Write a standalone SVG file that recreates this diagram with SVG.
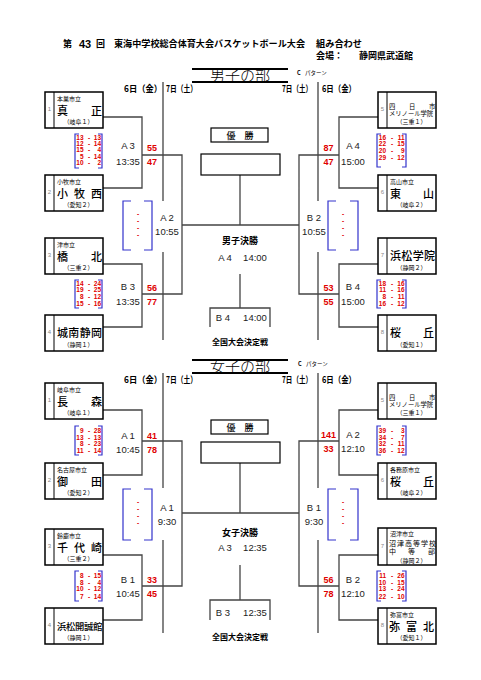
<svg xmlns="http://www.w3.org/2000/svg" width="481" height="680" viewBox="0 0 481 680">
<style>
.bx{fill:#fff;stroke:#000;stroke-width:1.5}
.il{stroke:#000;stroke-width:1}
.ln{fill:none;stroke:#444;stroke-width:1.3}
.tl{fill:none;stroke:#000;stroke-width:1.8}
.br{fill:none;stroke:#3333cc;stroke-width:1.2}
.city{font-family:"Noto Sans CJK JP",sans-serif;font-size:6px;fill:#000}
.nm{font-family:"Noto Sans CJK JP",sans-serif;font-size:11px;font-weight:500;fill:#000}
.pf{font-family:"Noto Sans CJK JP",sans-serif;font-size:6px;fill:#000;text-anchor:middle}
.no{font-family:"Liberation Sans",sans-serif;font-size:6px;fill:#888;text-anchor:middle}
.sc{font-family:"Liberation Sans",sans-serif;font-size:6.5px;font-weight:bold;fill:#e00000}
.sr{font-family:"Liberation Sans",sans-serif;font-size:9px;font-weight:bold;fill:#e00000;text-anchor:middle}
.mt{font-family:"Liberation Sans",sans-serif;font-size:9.5px;fill:#222;text-anchor:middle}
.hd{font-family:"Noto Sans CJK JP",sans-serif;font-size:9px;font-weight:bold;fill:#000}
.bt{font-family:"Noto Sans CJK JP",sans-serif;font-size:15px;font-weight:300;fill:#000;text-anchor:middle}
.cp{font-family:"Noto Sans CJK JP",sans-serif;font-size:5.5px;fill:#000}
.ct{font-family:"Noto Sans CJK JP",sans-serif;font-size:9px;font-weight:bold;fill:#000;text-anchor:middle}
.yu{font-family:"Noto Sans CJK JP",sans-serif;font-size:9px;font-weight:500;fill:#000;text-anchor:middle}
.ce{font-family:"Liberation Sans",sans-serif;font-size:9.5px;fill:#222;text-anchor:middle}
</style>
<rect width="481" height="680" fill="#fff"/>

<!-- header -->
<g id="header">
<text class="hd" x="63" y="47">第</text>
<text x="79" y="47.5" font-family="Liberation Sans,sans-serif" font-size="11" font-weight="bold">43</text>
<text class="hd" x="96" y="47">回</text>
<text class="hd" x="114" y="47" textLength="191" lengthAdjust="spacingAndGlyphs">東海中学校総合体育大会バスケットボール大会</text>
<text class="hd" x="316" y="47" textLength="46" lengthAdjust="spacingAndGlyphs">組み合わせ</text>
<text class="hd" x="316" y="58.5">会場：</text>
<text class="hd" x="359" y="58.5" textLength="54" lengthAdjust="spacingAndGlyphs">静岡県武道館</text>
</g>

<!-- boys title -->
<g id="boys-title">
<line class="tl" x1="192" y1="69" x2="288" y2="69"/>
<line class="tl" x1="192" y1="82" x2="288" y2="82"/>
<text class="bt" x="240" y="80.5">男子の部</text>
<text class="cp" x="297" y="75" font-weight="bold">C</text>
<text class="cp" x="305" y="75">パターン</text>
<text class="hd" x="124" y="92" textLength="38" lengthAdjust="spacingAndGlyphs">6日（金）</text>
<text class="hd" x="166" y="92" textLength="31" lengthAdjust="spacingAndGlyphs">7日（土）</text>
<text class="hd" x="282" y="92" textLength="30" lengthAdjust="spacingAndGlyphs">7日（土）</text>
<text class="hd" x="322" y="92" textLength="34" lengthAdjust="spacingAndGlyphs">6日（金）</text>
</g>

<!-- girls title -->
<g id="girls-title">
<line class="tl" x1="192" y1="360" x2="288" y2="360"/>
<line class="tl" x1="192" y1="373" x2="288" y2="373"/>
<text class="bt" x="240" y="371.5">女子の部</text>
<text class="cp" x="298" y="366" font-weight="bold">C</text>
<text class="cp" x="306" y="366">パターン</text>
<text class="hd" x="124" y="383" textLength="38" lengthAdjust="spacingAndGlyphs">6日（金）</text>
<text class="hd" x="166" y="383" textLength="31" lengthAdjust="spacingAndGlyphs">7日（土）</text>
<text class="hd" x="282" y="383" textLength="30" lengthAdjust="spacingAndGlyphs">7日（土）</text>
<text class="hd" x="322" y="383" textLength="34" lengthAdjust="spacingAndGlyphs">6日（金）</text>
</g>

<!-- connectors -->
<g id="connectors">
<path class="ln" d="M163 82V201M163 252V340M318 82V201M318 252V340"/>
<path class="ln" d="M103 117H142V188H103M142 155H182V294H142M103 264H142V327H103"/>
<path class="ln" d="M378 117H339V188H378M339 155H299V294H339M378 264H339V327H378"/>
<path class="ln" d="M182 225H299M240 175V225M240 274V308M210 327V308H270V327"/>
<path class="ln" d="M163 373V488M163 540V633M318 373V488M318 540V633"/>
<path class="ln" d="M103 410H142V475H103M142 441H182V586H142M103 555H142V620H103"/>
<path class="ln" d="M378 410H339V475H378M339 441H299V586H339M378 555H339V620H378"/>
<path class="ln" d="M182 513H299M240 463V513M240 565V600M210 620V600H270V620"/>
</g>

<!-- boys teams -->
<g id="boys-1">
<rect class="bx" x="45" y="92" width="58" height="36"/><line class="il" x1="54" y1="92" x2="54" y2="128"/>
<text class="no" x="49.5" y="111">1</text>
<text class="city" x="57" y="101">本巣市立</text>
<text class="nm" x="57 91" y="115">真正</text>
<text class="pf" x="78.5" y="124">（岐阜１）</text>
</g>
<g id="boys-2">
<rect class="bx" x="45" y="175" width="58" height="36"/><line class="il" x1="54" y1="175" x2="54" y2="211"/>
<text class="no" x="49.5" y="194">2</text>
<text class="city" x="57" y="184">小牧市立</text>
<text class="nm" x="57 74 91" y="198">小牧西</text>
<text class="pf" x="78.5" y="207">（愛知２）</text>
</g>
<g id="boys-3">
<rect class="bx" x="45" y="238" width="58" height="36"/><line class="il" x1="54" y1="238" x2="54" y2="274"/>
<text class="no" x="49.5" y="257">3</text>
<text class="city" x="57" y="247">津市立</text>
<text class="nm" x="57 91" y="261">橋北</text>
<text class="pf" x="78.5" y="270">（三重２）</text>
</g>
<g id="boys-4">
<rect class="bx" x="45" y="315" width="58" height="36"/><line class="il" x1="54" y1="315" x2="54" y2="351"/>
<text class="no" x="49.5" y="334">4</text>
<text class="nm" x="57 68.3 79.7 91" y="337">城南静岡</text>
<text class="pf" x="78.5" y="347">（静岡１）</text>
</g>
<g id="boys-5">
<rect class="bx" x="378" y="92" width="58" height="36"/><line class="il" x1="387" y1="92" x2="387" y2="128"/>
<text class="no" x="382.5" y="111">5</text>
<text class="city" x="389 409 429" y="108.5" style="font-size:6.3px">四日市</text>
<text class="city" x="389" y="116" style="font-size:6.3px">メリノール学院</text>
<text class="pf" x="411.5" y="124">（三重１）</text>
</g>
<g id="boys-6">
<rect class="bx" x="378" y="175" width="58" height="36"/><line class="il" x1="387" y1="175" x2="387" y2="211"/>
<text class="no" x="382.5" y="194">6</text>
<text class="city" x="390" y="184">高山市立</text>
<text class="nm" x="390 423" y="198">東山</text>
<text class="pf" x="411.5" y="207">（岐阜２）</text>
</g>
<g id="boys-7">
<rect class="bx" x="378" y="238" width="58" height="36"/><line class="il" x1="387" y1="238" x2="387" y2="274"/>
<text class="no" x="382.5" y="257">7</text>
<text class="nm" x="390 401.3 412.7 424" y="260">浜松学院</text>
<text class="pf" x="411.5" y="270">（静岡２）</text>
</g>
<g id="boys-8">
<rect class="bx" x="378" y="315" width="58" height="36"/><line class="il" x1="387" y1="315" x2="387" y2="351"/>
<text class="no" x="382.5" y="334">8</text>
<text class="nm" x="390 423" y="337">桜丘</text>
<text class="pf" x="411.5" y="347">（愛知１）</text>
</g>

<!-- girls teams -->
<g id="girls-1">
<rect class="bx" x="45" y="383" width="58" height="36"/><line class="il" x1="54" y1="383" x2="54" y2="419"/>
<text class="no" x="49.5" y="402">1</text>
<text class="city" x="57" y="392">岐阜市立</text>
<text class="nm" x="57 91" y="406">長森</text>
<text class="pf" x="78.5" y="415">（岐阜１）</text>
</g>
<g id="girls-2">
<rect class="bx" x="45" y="463" width="58" height="36"/><line class="il" x1="54" y1="463" x2="54" y2="499"/>
<text class="no" x="49.5" y="482">2</text>
<text class="city" x="57" y="472">名古屋市立</text>
<text class="nm" x="57 91" y="486">御田</text>
<text class="pf" x="78.5" y="495">（愛知２）</text>
</g>
<g id="girls-3">
<rect class="bx" x="45" y="529" width="58" height="36"/><line class="il" x1="54" y1="529" x2="54" y2="565"/>
<text class="no" x="49.5" y="548">3</text>
<text class="city" x="57" y="538">鈴鹿市立</text>
<text class="nm" x="57 74 91" y="552">千代崎</text>
<text class="pf" x="78.5" y="561">（三重２）</text>
</g>
<g id="girls-4">
<rect class="bx" x="45" y="608" width="58" height="36"/><line class="il" x1="54" y1="608" x2="54" y2="644"/>
<text class="no" x="49.5" y="627">4</text>
<text class="nm" x="57 66 75 84 93" y="630" style="font-size:9.3px">浜松開誠館</text>
<text class="pf" x="78.5" y="640">（静岡１）</text>
</g>
<g id="girls-5">
<rect class="bx" x="378" y="383" width="58" height="36"/><line class="il" x1="387" y1="383" x2="387" y2="419"/>
<text class="no" x="382.5" y="402">5</text>
<text class="city" x="389 409 429" y="399.5" style="font-size:6.3px">四日市</text>
<text class="city" x="389" y="407" style="font-size:6.3px">メリノール学院</text>
<text class="pf" x="411.5" y="415">（三重１）</text>
</g>
<g id="girls-6">
<rect class="bx" x="378" y="463" width="58" height="36"/><line class="il" x1="387" y1="463" x2="387" y2="499"/>
<text class="no" x="382.5" y="482">6</text>
<text class="city" x="390" y="472">各務原市立</text>
<text class="nm" x="390 423" y="486">桜丘</text>
<text class="pf" x="411.5" y="495">（岐阜２）</text>
</g>
<g id="girls-7">
<rect class="bx" x="378" y="528" width="58" height="37"/><line class="il" x1="387" y1="528" x2="387" y2="565"/>
<text class="no" x="382.5" y="548">7</text>
<text class="city" x="390" y="536">沼津市立</text>
<text class="city" x="389 397 405 413 421 429" y="545.5" style="font-size:7px">沼津高等学校</text>
<text class="city" x="389 408 428" y="554" style="font-size:7px">中等部</text>
<text class="pf" x="411.5" y="562.5">（静岡２）</text>
</g>
<g id="girls-8">
<rect class="bx" x="378" y="608" width="58" height="36"/><line class="il" x1="387" y1="608" x2="387" y2="644"/>
<text class="no" x="382.5" y="627">8</text>
<text class="city" x="390" y="617">弥富市立</text>
<text class="nm" x="389 406 423" y="631">弥富北</text>
<text class="pf" x="411.5" y="640">（愛知１）</text>
</g>

<!-- boys matches -->
<g id="boys-A3">
<path class="br" d="M79 134H75V168H79M98 134H102V168H98"/>
<text class="sc" text-anchor="end"><tspan x="83.5" y="139.5">13</tspan><tspan x="83.5" y="146">12</tspan><tspan x="83.5" y="152.3">15</tspan><tspan x="83.5" y="158.6">5</tspan><tspan x="83.5" y="165">10</tspan></text>
<text class="sc" text-anchor="middle"><tspan x="89" y="139.5">-</tspan><tspan x="89" y="146">-</tspan><tspan x="89" y="152.3">-</tspan><tspan x="89" y="158.6">-</tspan><tspan x="89" y="165">-</tspan></text>
<text class="sc" text-anchor="end"><tspan x="101" y="139.5">13</tspan><tspan x="101" y="146">14</tspan><tspan x="101" y="152.3">4</tspan><tspan x="101" y="158.6">14</tspan><tspan x="101" y="165">2</tspan></text>
<text class="mt" x="128" y="148.5">A 3</text><text class="mt" x="128" y="165">13:35</text>
<text class="sr" x="152" y="150.5">55</text><text class="sr" x="152" y="164.5">47</text>
</g>
<g id="boys-B3">
<path class="br" d="M79 280H75V308H79M98 280H102V308H98"/>
<text class="sc" text-anchor="end"><tspan x="83.5" y="285.5">14</tspan><tspan x="83.5" y="292.2">19</tspan><tspan x="83.5" y="298.9">8</tspan><tspan x="83.5" y="305.5">15</tspan></text>
<text class="sc" text-anchor="middle"><tspan x="89" y="285.5">-</tspan><tspan x="89" y="292.2">-</tspan><tspan x="89" y="298.9">-</tspan><tspan x="89" y="305.5">-</tspan></text>
<text class="sc" text-anchor="end"><tspan x="101" y="285.5">24</tspan><tspan x="101" y="292.2">25</tspan><tspan x="101" y="298.9">12</tspan><tspan x="101" y="305.5">16</tspan></text>
<text class="mt" x="128" y="290">B 3</text><text class="mt" x="128" y="304.5">13:35</text>
<text class="sr" x="152" y="290.5">56</text><text class="sr" x="152" y="304.5">77</text>
</g>
<g id="boys-A2">
<path class="br" d="M131 201H123V250H131M144 201H152V250H144"/>
<text class="sc" text-anchor="middle"><tspan x="138" y="216">-</tspan><tspan x="138" y="223">-</tspan><tspan x="138" y="230">-</tspan><tspan x="138" y="237">-</tspan></text>
<text class="mt" x="167" y="221">A 2</text><text class="mt" x="167" y="234.5">10:55</text>
</g>
<g id="boys-A4">
<path class="br" d="M381 134H377V167H381M402 134H406V167H402"/>
<text class="sc" text-anchor="end"><tspan x="386" y="139.5">16</tspan><tspan x="386" y="146.3">22</tspan><tspan x="386" y="153.2">20</tspan><tspan x="386" y="160">29</tspan></text>
<text class="sc" text-anchor="middle"><tspan x="392" y="139.5">-</tspan><tspan x="392" y="146.3">-</tspan><tspan x="392" y="153.2">-</tspan><tspan x="392" y="160">-</tspan></text>
<text class="sc" text-anchor="end"><tspan x="404.5" y="139.5">11</tspan><tspan x="404.5" y="146.3">15</tspan><tspan x="404.5" y="153.2">9</tspan><tspan x="404.5" y="160">12</tspan></text>
<text class="mt" x="353" y="148.5">A 4</text><text class="mt" x="353" y="165">15:00</text>
<text class="sr" x="328.5" y="150.5">87</text><text class="sr" x="328.5" y="164.5">47</text>
</g>
<g id="boys-B4">
<path class="br" d="M381 280H377V308H381M402 280H406V308H402"/>
<text class="sc" text-anchor="end"><tspan x="386" y="285.5">18</tspan><tspan x="386" y="292.2">11</tspan><tspan x="386" y="298.9">8</tspan><tspan x="386" y="305.5">16</tspan></text>
<text class="sc" text-anchor="middle"><tspan x="392" y="285.5">-</tspan><tspan x="392" y="292.2">-</tspan><tspan x="392" y="298.9">-</tspan><tspan x="392" y="305.5">-</tspan></text>
<text class="sc" text-anchor="end"><tspan x="404.5" y="285.5">16</tspan><tspan x="404.5" y="292.2">16</tspan><tspan x="404.5" y="298.9">11</tspan><tspan x="404.5" y="305.5">12</tspan></text>
<text class="mt" x="353" y="290">B 4</text><text class="mt" x="353" y="304.5">15:00</text>
<text class="sr" x="328.5" y="290.5">53</text><text class="sr" x="328.5" y="304.5">55</text>
</g>
<g id="boys-B2">
<path class="br" d="M336 201H328V250H336M350 201H358V250H350"/>
<text class="sc" text-anchor="middle"><tspan x="343" y="216">-</tspan><tspan x="343" y="223">-</tspan><tspan x="343" y="230">-</tspan><tspan x="343" y="237">-</tspan></text>
<text class="mt" x="314" y="221">B 2</text><text class="mt" x="314" y="234.5">10:55</text>
</g>
<g id="boys-final">
<rect class="bx" x="211" y="128" width="57" height="14" style="stroke-width:1.2"/>
<text class="yu" x="240" y="138.5">優　勝</text>
<rect class="bx" x="201" y="154" width="79" height="21" style="stroke-width:1.2"/>
<text class="ct" x="240" y="243.5">男子決勝</text>
<text class="ce" x="225" y="260.5">A 4</text><text class="ce" x="255" y="260.5">14:00</text>
<text class="ce" x="223" y="320.5">B 4</text><text class="ce" x="255" y="320.5">14:00</text>
<text class="ct" x="240" y="345" style="font-size:8px">全国大会決定戦</text>
</g>

<!-- girls matches -->
<g id="girls-A1">
<path class="br" d="M79 426H75V455H79M98 426H102V455H98"/>
<text class="sc" text-anchor="end"><tspan x="83.5" y="433">9</tspan><tspan x="83.5" y="439.5">13</tspan><tspan x="83.5" y="446.2">8</tspan><tspan x="83.5" y="453">11</tspan></text>
<text class="sc" text-anchor="middle"><tspan x="89" y="433">-</tspan><tspan x="89" y="439.5">-</tspan><tspan x="89" y="446.2">-</tspan><tspan x="89" y="453">-</tspan></text>
<text class="sc" text-anchor="end"><tspan x="101" y="433">28</tspan><tspan x="101" y="439.5">13</tspan><tspan x="101" y="446.2">23</tspan><tspan x="101" y="453">14</tspan></text>
<text class="mt" x="128" y="438.5">A 1</text><text class="mt" x="128" y="452.5">10:45</text>
<text class="sr" x="152" y="438.5">41</text><text class="sr" x="152" y="452.5">78</text>
</g>
<g id="girls-B1">
<path class="br" d="M79 571H75V601H79M98 571H102V601H98"/>
<text class="sc" text-anchor="end"><tspan x="83.5" y="578">8</tspan><tspan x="83.5" y="584.8">8</tspan><tspan x="83.5" y="591.4">10</tspan><tspan x="83.5" y="598.5">7</tspan></text>
<text class="sc" text-anchor="middle"><tspan x="89" y="578">-</tspan><tspan x="89" y="584.8">-</tspan><tspan x="89" y="591.4">-</tspan><tspan x="89" y="598.5">-</tspan></text>
<text class="sc" text-anchor="end"><tspan x="101" y="578">15</tspan><tspan x="101" y="584.8">4</tspan><tspan x="101" y="591.4">12</tspan><tspan x="101" y="598.5">14</tspan></text>
<text class="mt" x="128" y="582.5">B 1</text><text class="mt" x="128" y="596.5">10:45</text>
<text class="sr" x="152" y="582.5">33</text><text class="sr" x="152" y="596.5">45</text>
</g>
<g id="girls-A1-semi">
<path class="br" d="M131 489H123V540H131M144 489H152V540H144"/>
<text class="sc" text-anchor="middle"><tspan x="138" y="504">-</tspan><tspan x="138" y="511">-</tspan><tspan x="138" y="518">-</tspan><tspan x="138" y="525">-</tspan></text>
<text class="mt" x="167" y="510.5">A 1</text><text class="mt" x="167" y="524.5">9:30</text>
</g>
<g id="girls-A2">
<path class="br" d="M381 426H377V455H381M402 426H406V455H402"/>
<text class="sc" text-anchor="end"><tspan x="386" y="433">39</tspan><tspan x="386" y="439.5">34</tspan><tspan x="386" y="446.2">32</tspan><tspan x="386" y="453">36</tspan></text>
<text class="sc" text-anchor="middle"><tspan x="392" y="433">-</tspan><tspan x="392" y="439.5">-</tspan><tspan x="392" y="446.2">-</tspan><tspan x="392" y="453">-</tspan></text>
<text class="sc" text-anchor="end"><tspan x="404.5" y="433">3</tspan><tspan x="404.5" y="439.5">7</tspan><tspan x="404.5" y="446.2">11</tspan><tspan x="404.5" y="453">12</tspan></text>
<text class="mt" x="353" y="437.5">A 2</text><text class="mt" x="353" y="451.5">12:10</text>
<text class="sr" x="328.5" y="437.5">141</text><text class="sr" x="328.5" y="451.5">33</text>
</g>
<g id="girls-B2">
<path class="br" d="M381 571H377V601H381M402 571H406V601H402"/>
<text class="sc" text-anchor="end"><tspan x="386" y="578">11</tspan><tspan x="386" y="584.8">10</tspan><tspan x="386" y="591.4">13</tspan><tspan x="386" y="598.5">22</tspan></text>
<text class="sc" text-anchor="middle"><tspan x="392" y="578">-</tspan><tspan x="392" y="584.8">-</tspan><tspan x="392" y="591.4">-</tspan><tspan x="392" y="598.5">-</tspan></text>
<text class="sc" text-anchor="end"><tspan x="404.5" y="578">26</tspan><tspan x="404.5" y="584.8">15</tspan><tspan x="404.5" y="591.4">24</tspan><tspan x="404.5" y="598.5">10</tspan></text>
<text class="mt" x="353" y="582.5">B 2</text><text class="mt" x="353" y="596.5">12:10</text>
<text class="sr" x="328.5" y="582.5">56</text><text class="sr" x="328.5" y="596.5">78</text>
</g>
<g id="girls-B1-semi">
<path class="br" d="M336 489H328V540H336M350 489H358V540H350"/>
<text class="sc" text-anchor="middle"><tspan x="343" y="504">-</tspan><tspan x="343" y="511">-</tspan><tspan x="343" y="518">-</tspan><tspan x="343" y="525">-</tspan></text>
<text class="mt" x="314" y="510.5">B 1</text><text class="mt" x="314" y="524.5">9:30</text>
</g>
<g id="girls-final">
<rect class="bx" x="211" y="420" width="57" height="14" style="stroke-width:1.2"/>
<text class="yu" x="240" y="430.5">優　勝</text>
<rect class="bx" x="201" y="442" width="79" height="21" style="stroke-width:1.2"/>
<text class="ct" x="240" y="535.5">女子決勝</text>
<text class="ce" x="225" y="550.5">A 3</text><text class="ce" x="255" y="550.5">12:35</text>
<text class="ce" x="223" y="615.5">B 3</text><text class="ce" x="255" y="615.5">12:35</text>
<text class="ct" x="240" y="640" style="font-size:8px">全国大会決定戦</text>
</g>
</svg>
